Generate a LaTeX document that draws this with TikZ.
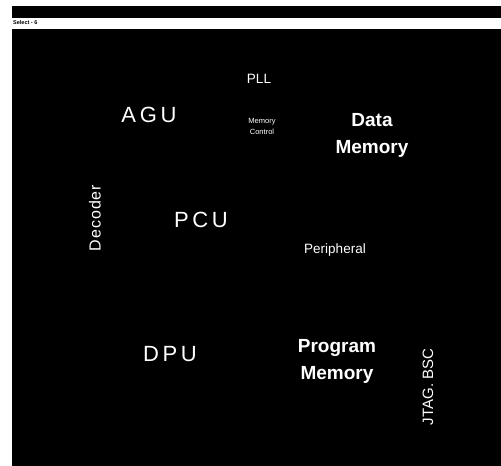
\documentclass[tikz,border=0pt]{standalone}
\usepackage{fontspec}
\setmainfont{Liberation Sans}
\begin{document}
\begin{tikzpicture}[x=1pt,y=-1pt,
  lbl/.style={text=white,inner sep=0pt,align=center},
  big/.style={lbl,font=\fontsize{22}{24}\selectfont},
  bigb/.style={lbl,font=\fontsize{19}{27}\selectfont\bfseries},
  mid/.style={lbl,font=\fontsize{15}{16}\selectfont},
  small/.style={lbl,font=\fontsize{13.5}{14}\selectfont},
  tiny/.style={lbl,font=\fontsize{7.5}{11}\selectfont}]
\useasboundingbox (0,0) rectangle (501,466);
\fill[white] (0,0) rectangle (501,466);
% top bar
\fill[black] (12,6) rectangle (501,18);
\node[anchor=west,inner sep=0pt,font=\fontsize{5.5}{6}\selectfont\bfseries] (sel) at (13,23) {Select - 6};
% main panel
\fill[black] (12,29) rectangle (501,466);
\node[small] (pll) at (259,79) {PLL};
\node[big] (agu) at (149,115) {A\,G\,U};
\node[tiny] (mc) at (262,126) {Memory\\Control};
\node[bigb] (dm) at (372,135) {Data\\Memory};
\node[lbl,font=\fontsize{16}{17}\selectfont,rotate=90] (dec) at (95,218) {D\kern1pt e\kern1pt c\kern1pt o\kern1pt d\kern1pt e\kern1pt r};
\node[big] (pcu) at (201,220) {P\,C\,U};
\node[small] (per) at (335,250) {Peripheral};
\node[big] (dpu) at (170,354) {D\,P\,U};
\node[bigb] (pm) at (337,361) {Program\\Memory};
\node[mid,rotate=90] (jtag) at (428,387) {JTAG. BSC};
\end{tikzpicture}
\end{document}
